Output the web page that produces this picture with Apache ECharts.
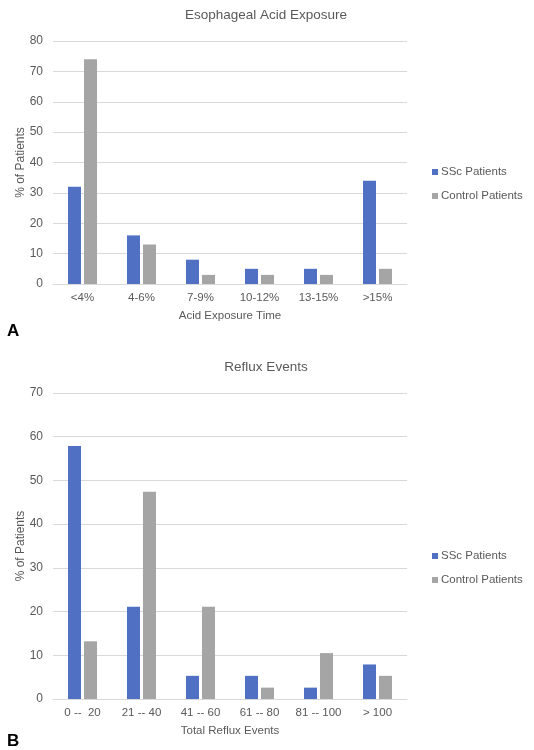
<!DOCTYPE html>
<html><head><meta charset="utf-8">
<script src="https://cdn.jsdelivr.net/npm/echarts@6/dist/echarts.min.js"></script>
<style>html,body{margin:0;padding:0;background:#fff}#c{width:534px;height:750px}</style>
</head><body><div id="c"></div>
<script>
const seriesNames = ["SSc Patients", "Control Patients"];
const catsA = ["<4%", "4-6%", "7-9%", "10-12%", "13-15%", ">15%"];
const sscA = [32, 16, 8, 5, 5, 34];
const ctrlA = [74, 13, 3, 3, 3, 5];
const catsB = ["0 --  20", "21 -- 40", "41 -- 60", "61 -- 80", "81 -- 100", "> 100"];
const sscB = [57.9, 21.1, 5.3, 5.3, 2.6, 7.9];
const ctrlB = [13.2, 47.4, 21.1, 2.6, 10.5, 5.3];
const titleA = "Esophageal Acid Exposure", titleB = "Reflux Events";
const xNameA = "Acid Exposure Time", xNameB = "Total Reflux Events";
const yName = "% of Patients";

const txt = '#595959', grid = '#d9d9d9', ff = '"Liberation Sans", Arial, sans-serif';
const colors = ['#5070C4', '#A5A5A5'];
function xAxis(i, cats, name) {
  return { type: 'category', gridIndex: i, data: cats, name: name, nameLocation: 'middle', nameGap: 26,
    nameMoveOverlap: false,
    nameTextStyle: { color: txt, fontSize: 11.5, fontFamily: ff },
    axisLine: { lineStyle: { color: grid } }, axisTick: { show: false },
    axisLabel: { color: txt, fontSize: 11.5, fontFamily: ff, margin: 8, interval: 0 } };
}
function yAxis(i, max) {
  return { type: 'value', gridIndex: i, min: 0, max: max, interval: 10, name: yName, nameLocation: 'middle', nameGap: 26,
    nameMoveOverlap: false,
    nameTextStyle: { color: txt, fontSize: 12, fontFamily: ff },
    axisLine: { show: false }, axisTick: { show: false },
    splitLine: { lineStyle: { color: grid } },
    axisLabel: { color: txt, fontSize: 12, fontFamily: ff, margin: 10 } };
}
function bar(name, data, i, c) {
  return { type: 'bar', name: name, data: data, xAxisIndex: i, yAxisIndex: i, barWidth: 13, barGap: '23%',
    itemStyle: { color: c }, animation: false };
}
const chart = echarts.init(document.getElementById('c'));
chart.setOption({
  animation: false,
  color: colors,
  title: [
    { text: titleA, left: 261, top: 3, textAlign: 'center', textStyle: { color: txt, fontSize: 13.5, fontWeight: 'normal', fontFamily: ff } },
    { text: titleB, left: 261, top: 355, textAlign: 'center', textStyle: { color: txt, fontSize: 13.5, fontWeight: 'normal', fontFamily: ff } },
    { text: 'A', left: 2, top: 318, textStyle: { color: '#000', fontSize: 17, fontWeight: 'bold', fontFamily: ff } },
    { text: 'B', left: 2, top: 728, textStyle: { color: '#000', fontSize: 17, fontWeight: 'bold', fontFamily: ff } }
  ],
  legend: [
    { data: seriesNames, orient: 'vertical', left: 427, top: 161, itemWidth: 6, itemHeight: 6, itemGap: 12, icon: 'rect',
      textStyle: { color: txt, fontSize: 11.5, fontFamily: ff, padding: [0, 0, 0, -2] } },
    { data: seriesNames, orient: 'vertical', left: 427, top: 545, itemWidth: 6, itemHeight: 6, itemGap: 12, icon: 'rect',
      textStyle: { color: txt, fontSize: 11.5, fontFamily: ff, padding: [0, 0, 0, -2] } }
  ],
  grid: [
    { left: 53, width: 354, top: 41, height: 243 },
    { left: 53, width: 354, top: 393, height: 306 }
  ],
  xAxis: [xAxis(0, catsA, xNameA), xAxis(1, catsB, xNameB)],
  yAxis: [yAxis(0, 80), yAxis(1, 70)],
  series: [
    bar(seriesNames[0], sscA, 0, colors[0]), bar(seriesNames[1], ctrlA, 0, colors[1]),
    bar(seriesNames[0], sscB, 1, colors[0]), bar(seriesNames[1], ctrlB, 1, colors[1])
  ]
});
</script></body></html>
